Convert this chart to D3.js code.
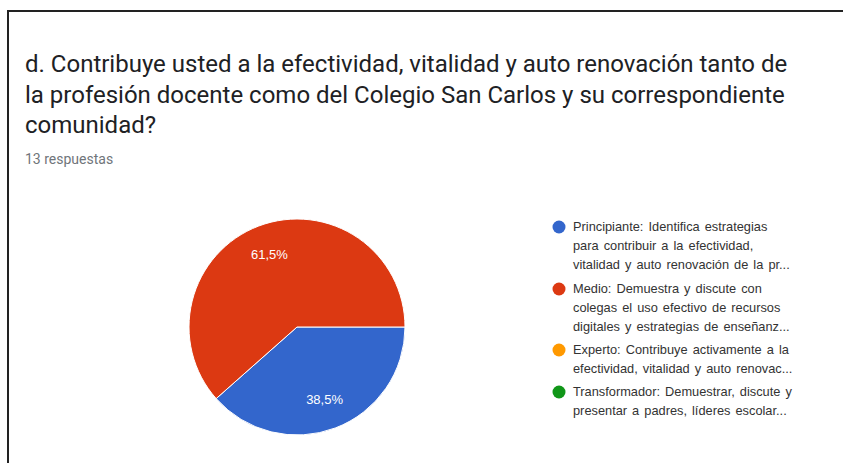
<!DOCTYPE html>
<html><head><meta charset="utf-8">
<script src="https://cdn.jsdelivr.net/npm/d3@7"></script>
<style>body{margin:0;background:#fff;overflow:hidden}svg{display:block}</style>
</head><body>
<svg id="c" width="843" height="463"></svg>
<script>
const titleLines = ["d. Contribuye usted a la efectividad, vitalidad y auto renovación tanto de",
  "la profesión docente como del Colegio San Carlos y su correspondiente",
  "comunidad?"];
const subtitle = "13 respuestas";
const categories = ["Principiante", "Medio", "Experto", "Transformador"];
const values = [5, 8, 0, 0];
const colors = ["#3366cc", "#dc3912", "#ff9900", "#109618"];
const legendLines = [
  ["Principiante: Identifica estrategias", "para contribuir a la efectividad,", "vitalidad y auto renovación de la pr..."],
  ["Medio: Demuestra y discute con", "colegas el uso efectivo de recursos", "digitales y estrategias de enseñanz..."],
  ["Experto: Contribuye activamente a la", "efectividad, vitalidad y auto renovac..."],
  ["Transformador: Demuestrar, discute y", "presentar a padres, líderes escolar..."]
];

const svg = d3.select("#c");
svg.append("path").attr("d","M8,463 L8,11 L843,11").attr("fill","none").attr("stroke","#222").attr("stroke-width",2);

const t = svg.append("g");
titleLines.forEach((l,i)=>{
  t.append("text").attr("x",25).attr("y",72+i*30.5).text(l)
   .attr("font-family","Roboto").attr("font-size",24).attr("fill","#202124");
});
svg.append("text").attr("x",25).attr("y",164).text(subtitle)
  .attr("font-family","Roboto").attr("font-size",14).attr("fill","#70757a");

const cx=297, cy=327, r=108;
const total = d3.sum(values);
const pie = d3.pie().sort(null).startAngle(Math.PI/2).endAngle(Math.PI/2+2*Math.PI)(values);
const arc = d3.arc().innerRadius(0).outerRadius(r);
const g = svg.append("g").attr("transform",`translate(${cx},${cy})`);
g.selectAll("path").data(pie.filter(d=>d.value>0)).join("path")
  .attr("d",arc).attr("fill",d=>colors[d.index]).attr("stroke","#fff").attr("stroke-width",1);
const lab = d3.arc().innerRadius(r*0.72).outerRadius(r*0.72);
g.selectAll("text").data(pie.filter(d=>d.value>0)).join("text")
  .attr("transform",d=>`translate(${lab.centroid(d)})`)
  .attr("text-anchor","middle").attr("dy","0.35em")
  .attr("font-family","Arial, Liberation Sans").attr("font-size",13).attr("fill","#fff")
  .text(d=>(d.value/total*100).toFixed(1).replace(".",",")+"%");

const lg = svg.append("g");
const itemY=[227,289,350,392];
legendLines.forEach((lines,i)=>{
  lg.append("circle").attr("cx",559).attr("cy",itemY[i]).attr("r",6.5).attr("fill",colors[i]);
  lines.forEach((l,j)=>{
    lg.append("text").attr("x",573).attr("y",itemY[i]+j*19).attr("dy","0.35em").text(l)
      .attr("font-family","Arial, Liberation Sans").attr("font-size",12.8).attr("word-spacing",1.5).attr("fill","#333");
  });
});
</script>
</body></html>
